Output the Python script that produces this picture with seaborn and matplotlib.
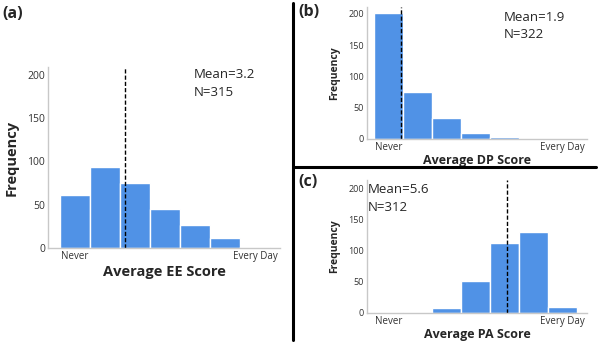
import numpy as np
import matplotlib
matplotlib.use('Agg')
import matplotlib.pyplot as plt
from matplotlib.lines import Line2D
import seaborn as sns

sns.set_style('white')
plt.rcParams['font.family'] = ['Open Sans', 'DejaVu Sans']

bins = [0, 1, 2, 3, 4, 5, 6]
ee_counts = [61, 94, 75, 45, 27, 12, 1]
dp_counts = [202, 75, 33, 9, 3, 0, 0]
pa_counts = [1, 1, 8, 51, 112, 130, 9]
# dashed mean line position, in bin units
ee_line = 1.67
dp_line = 0.42
pa_line = 4.08
ee_text = ['Mean=3.2', 'N=315']
dp_text = ['Mean=1.9', 'N=322']
pa_text = ['Mean=5.6', 'N=312']
xticks = ['Never', 'Every Day']
yticks = [0, 50, 100, 150, 200]

bar_color = '#5092E6'

fig = plt.figure(figsize=(6, 3.43), dpi=100)


def panel(rect, counts, line_x, texts, text_pos, xlabel, xlim, ylim, small):
    ax = fig.add_axes(rect)
    sns.barplot(x=bins, y=counts, width=1, color=bar_color, edgecolor='white',
                linewidth=1, saturation=1, ax=ax)
    ax.axvline(line_x, color='black', ls='--', lw=1, dashes=(3, 1.5))
    ax.set_xlim(*xlim)
    ax.set_ylim(*ylim)
    ax.set_xticks([0, 6])
    ax.set_xticklabels(xticks, fontsize=7, color='#333333')
    ax.set_yticks(yticks)
    ax.set_yticklabels([str(v) for v in yticks], fontsize=6.5 if small else 7.5,
                       color='#333333')
    ax.tick_params(length=0, pad=2)
    for s in ['top', 'right']:
        ax.spines[s].set_visible(False)
    for s in ['left', 'bottom']:
        ax.spines[s].set_color('#c8c8c8')
        ax.spines[s].set_linewidth(1)
    lfs = 9 if small else 10.5
    ax.set_xlabel(xlabel, fontsize=lfs, fontweight='bold', labelpad=1 if small else 2)
    ax.set_ylabel('Frequency', fontsize=7.5 if small else 10.5, fontweight='bold',
                  labelpad=6)
    ax.text(text_pos[0], text_pos[1], texts[0], transform=ax.transAxes,
            fontsize=9.5, va='center', ha='left')
    ax.text(text_pos[0], text_pos[2], texts[1], transform=ax.transAxes,
            fontsize=9.5, va='center', ha='left')
    return ax


panel([48 / 600, 95 / 343, 232 / 600, 181 / 343], ee_counts, ee_line, ee_text,
      (0.63, 0.96, 0.86), 'Average EE Score', (-0.9, 6.83), (0, 209), False)
panel([367 / 600, 204 / 343, 220 / 600, 132 / 343], dp_counts, dp_line, dp_text,
      (0.62, 0.92, 0.79), 'Average DP Score', (-0.74, 6.84), (0, 211), True)
panel([367 / 600, 30 / 343, 220 / 600, 133 / 343], pa_counts, pa_line, pa_text,
      (0.005, 0.925, 0.79), 'Average PA Score', (-0.74, 6.84), (0, 213), True)

fig.text(2 / 600, 1 - 14 / 343, '(a)', fontsize=11.5, fontweight='bold', va='center')
fig.text(298 / 600, 1 - 12 / 343, '(b)', fontsize=11.5, fontweight='bold', va='center')
fig.text(298 / 600, 1 - 182 / 343, '(c)', fontsize=11.5, fontweight='bold', va='center')

fig.add_artist(Line2D([293 / 600, 293 / 600], [1 - 3 / 343, 1 - 340 / 343],
                      color='black', lw=2.2, transform=fig.transFigure))
fig.add_artist(Line2D([293 / 600, 596 / 600], [1 - 167 / 343, 1 - 167 / 343],
                      color='black', lw=2.2, transform=fig.transFigure))

fig.savefig('out.png', dpi=100)
